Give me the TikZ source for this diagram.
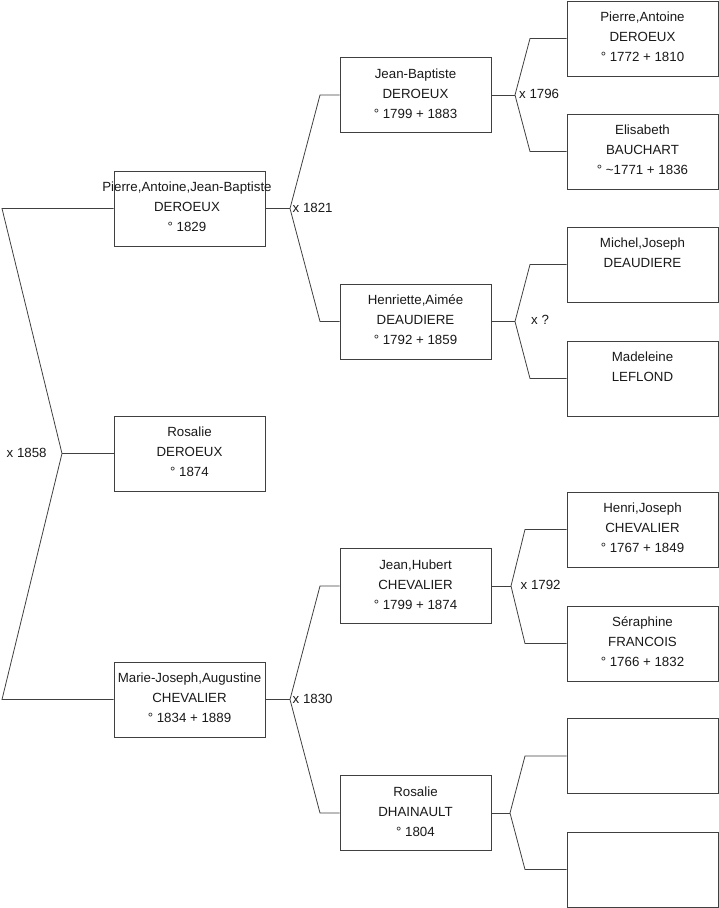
\documentclass[tikz,border=0pt]{standalone}
\usepackage{fontspec}
\setmainfont{Liberation Sans}
\begin{document}
\begin{tikzpicture}[x=1pt,y=-1pt]
\tikzset{
  pbox/.style={draw=black!75, line width=0.8pt, minimum width=151pt, minimum height=75pt, inner sep=0pt},
  ptxt/.style={align=center, font=\fontsize{13.3}{20}\selectfont, inner sep=0pt, text=black!90, yshift=1.5pt},
  conn/.style={draw=black!75, line width=0.8pt},
  mlabel/.style={font=\fontsize{13.3}{16}\selectfont, inner sep=0pt, anchor=west, text=black!90}
}
\useasboundingbox (0,0) rectangle (719,908);
% generation 1
\node[pbox] (A) at (189.5,208.5) {};
\node[ptxt, xshift=-2.5pt] (tA) at (A.center) {Pierre,Antoine,Jean-Baptiste\\DEROEUX\\° 1829};
\node[pbox] (B) at (189.5,453.5) {};
\node[ptxt] (tB) at (B.center) {Rosalie\\DEROEUX\\° 1874};
\node[pbox] (C) at (189.5,699.5) {};
\node[ptxt] (tC) at (C.center) {Marie-Joseph,Augustine\\CHEVALIER\\° 1834 + 1889};
% generation 2
\node[pbox] (D) at (415.5,95) {};
\node[ptxt] (tD) at (D.center) {Jean-Baptiste\\DEROEUX\\° 1799 + 1883};
\node[pbox] (E) at (415.5,321.5) {};
\node[ptxt] (tE) at (E.center) {Henriette,Aimée\\DEAUDIERE\\° 1792 + 1859};
\node[pbox] (F) at (415.5,586) {};
\node[ptxt] (tF) at (F.center) {Jean,Hubert\\CHEVALIER\\° 1799 + 1874};
\node[pbox] (G) at (415.5,813) {};
\node[ptxt] (tG) at (G.center) {Rosalie\\DHAINAULT\\° 1804};
% generation 3
\node[pbox] (H) at (642.5,38.5) {};
\node[ptxt] (tH) at (H.center) {Pierre,Antoine\\DEROEUX\\° 1772 + 1810};
\node[pbox] (I) at (642.5,151.5) {};
\node[ptxt] (tI) at (I.center) {Elisabeth\\BAUCHART\\° \textasciitilde1771 + 1836};
\node[pbox] (J) at (642.5,264.5) {};
\node[ptxt] (tJ) at (J.center) {Michel,Joseph\\DEAUDIERE\\\phantom{0}};
\node[pbox] (K) at (642.5,378.5) {};
\node[ptxt] (tK) at (K.center) {Madeleine\\LEFLOND\\\phantom{0}};
\node[pbox] (L) at (642.5,529.5) {};
\node[ptxt] (tL) at (L.center) {Henri,Joseph\\CHEVALIER\\° 1767 + 1849};
\node[pbox] (M) at (642.5,643.5) {};
\node[ptxt] (tM) at (M.center) {Séraphine\\FRANCOIS\\° 1766 + 1832};
\node[pbox] (N) at (642.5,756) {};
\node[pbox] (O) at (642.5,869.5) {};
% bracket coordinates
\coordinate (la) at (2,208.5);
\coordinate (lc) at (2,699.5);
\coordinate (v0) at (62,453.5);
\coordinate (vA) at (290,208.5);
\coordinate (dA) at (320,95);
\coordinate (eA) at (320,321.5);
\coordinate (vC) at (290,699.5);
\coordinate (fC) at (320,586);
\coordinate (gC) at (320,813);
\coordinate (vD) at (515,95);
\coordinate (hD) at (530,38.5);
\coordinate (iD) at (530,151.5);
\coordinate (vE) at (515,321.5);
\coordinate (jE) at (530,264.5);
\coordinate (kE) at (530,378.5);
\coordinate (vF) at (511,586);
\coordinate (lF) at (525,529.5);
\coordinate (mF) at (525,643.5);
\coordinate (vG) at (510,813);
\coordinate (nG) at (525,756);
\coordinate (oG) at (525,869.5);
% connectors
\draw[conn] (A.west) -- (la) -- (v0) -- (lc) -- (C.west);
\draw[conn] (v0) -- (B.west);
\draw[conn] (A.east) -- (vA);
\draw[conn] (D.west) -- (dA) -- (vA) -- (eA) -- (E.west);
\draw[conn] (C.east) -- (vC);
\draw[conn] (F.west) -- (fC) -- (vC) -- (gC) -- (G.west);
\draw[conn] (D.east) -- (vD);
\draw[conn] (H.west) -- (hD) -- (vD) -- (iD) -- (I.west);
\draw[conn] (E.east) -- (vE);
\draw[conn] (J.west) -- (jE) -- (vE) -- (kE) -- (K.west);
\draw[conn] (F.east) -- (vF);
\draw[conn] (L.west) -- (lF) -- (vF) -- (mF) -- (M.west);
\draw[conn] (G.east) -- (vG);
\draw[conn] (N.west) -- (nG) -- (vG) -- (oG) -- (O.west);
% marriage labels
\node[mlabel] (m0) at (6.5,452.5) {x 1858};
\node[mlabel] (mA) at (292.5,208) {x 1821};
\node[mlabel] (mC) at (292.5,699) {x 1830};
\node[mlabel] (mD) at (519,94) {x 1796};
\node[mlabel] (mE) at (531,320) {x ?};
\node[mlabel] (mF) at (520.5,584.5) {x 1792};
\end{tikzpicture}
\end{document}
